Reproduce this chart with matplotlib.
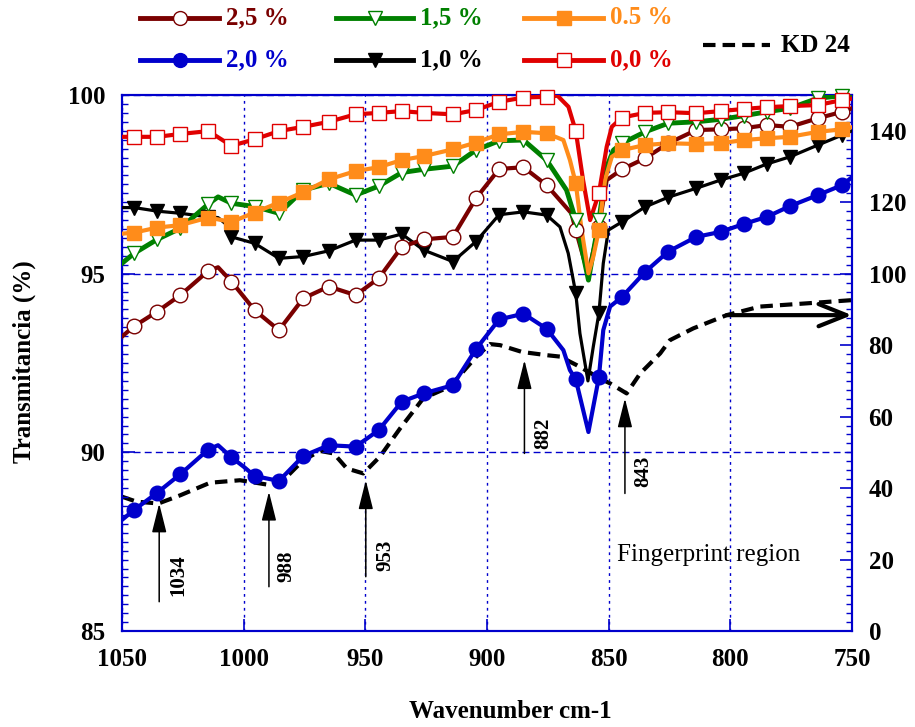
import matplotlib
matplotlib.use("Agg")
import matplotlib.pyplot as plt
import numpy as np
from matplotlib.lines import Line2D
from matplotlib.ticker import MultipleLocator

plt.rcParams['font.family'] = ['Liberation Serif', 'DejaVu Serif']
plt.rcParams['font.weight'] = 'bold'

# ---------------- data ----------------
# common marker positions (cm-1)
mk_wn = [1045, 1035.5, 1026, 1014.5, 1005, 995.5, 985.5, 975.5, 965, 954,
         944.5, 935, 926, 914, 904.5, 895, 885, 875.5, 863.5, 854,
         844.5, 835, 825.5, 814, 804, 794.5, 785, 775.5, 764, 754]

# marker values (transmittance %)
t00_mk = [98.83, 98.83, 98.91, 98.99, 98.58, 98.76, 98.99, 99.11, 99.25, 99.46,
          99.50, 99.55, 99.50, 99.46, 99.58, 99.81, 99.93, 99.95, 98.99, 97.25,
          99.37, 99.50, 99.52, 99.49, 99.55, 99.61, 99.66, 99.69, 99.72, 99.86]
t05_mk = [96.15, 96.29, 96.36, 96.57, 96.45, 96.71, 96.99, 97.28, 97.64, 97.87,
          97.98, 98.18, 98.29, 98.48, 98.67, 98.90, 98.97, 98.93, 97.53, 96.22,
          98.46, 98.60, 98.65, 98.63, 98.65, 98.74, 98.79, 98.83, 98.97, 99.04]
t15_mk = [95.57, 95.96, 96.27, 96.95, 96.97, 96.88, 96.69, 97.34, 97.53, 97.20,
          97.45, 97.83, 97.92, 98.01, 98.46, 98.72, 98.74, 98.18, 96.50, 96.50,
          98.65, 98.97, 99.21, 99.25, 99.32, 99.42, 99.53, 99.63, 99.91, 99.98]
t25_mk = [93.53, 93.94, 94.40, 95.08, 94.78, 93.98, 93.42, 94.31, 94.64, 94.40,
          94.87, 95.75, 95.96, 96.03, 97.11, 97.93, 97.98, 97.48, 96.22, 96.30,
          97.92, 98.23, 98.65, 99.02, 99.04, 99.07, 99.16, 99.11, 99.35, 99.53]
t10_mk = [96.85, 96.75, 96.69, 96.59, 96.03, 95.85, 95.43, 95.48, 95.64, 95.94,
          95.94, 96.11, 95.66, 95.34, 95.90, 96.65, 96.73, 96.64, 94.45, 93.89,
          96.45, 96.87, 97.14, 97.39, 97.62, 97.81, 98.07, 98.27, 98.60, 98.88]
t20_mk = [88.39, 88.87, 89.39, 90.08, 89.86, 89.34, 89.20, 89.90, 90.20, 90.16,
          90.62, 91.42, 91.65, 91.88, 92.89, 93.72, 93.88, 93.46, 92.04, 92.10,
          94.35, 95.05, 95.62, 96.03, 96.17, 96.39, 96.59, 96.89, 97.20, 97.48]

# extra line points between markers (wavenumber, value)
t00_ex_wn = [1050, 871, 866.5, 860.5, 857.6, 850.8, 848.7, 750]
t00_ex = [98.83, 99.98, 99.67, 97.62, 96.50, 98.55, 99.11, 99.90]
t05_ex_wn = [1050, 868.6, 865.9, 861.1, 858.3, 856.3, 851.5, 848.7, 750]
t05_ex = [96.12, 98.74, 98.18, 96.22, 95.01, 95.48, 97.62, 98.27, 99.10]
t15_ex_wn = [1050, 1010.5, 867.3, 858.3, 850.8, 848.0, 750]
t15_ex = [95.29, 97.15, 97.34, 94.82, 97.99, 98.46, 99.98]
t25_ex_wn = [1050, 1010.5, 865.3, 858.5, 850.8, 750]
t25_ex = [93.24, 95.18, 96.69, 95.00, 97.62, 99.63]
t10_ex_wn = [1050, 1010.5, 1007.5, 870, 866.6, 861.8, 858.5, 856.3, 852.2, 850.1, 750]
t10_ex = [96.85, 96.57, 96.40, 96.31, 95.57, 93.33, 92.00, 92.96, 95.29, 96.22, 99.00]
t20_ex_wn = [1050, 1010.5, 1000, 868.6, 865.9, 858.3, 852.2, 849.4, 750]
t20_ex = [88.11, 90.20, 89.60, 92.86, 92.30, 90.57, 93.42, 94.08, 97.70]

# KD 24 reference spectrum (right axis)
kd_wn = [1050, 1044, 1035, 1026, 1013.8, 1001.5, 990.5, 985, 975.5, 968.6, 963,
         957.6, 950.8, 944, 935.7, 926.2, 915.2, 904.5, 898.7, 894.6, 885.6,
         875.5, 870, 863.1, 852.2, 849.4, 842.6, 837, 828.8, 824.8, 815.2,
         801.5, 787.8, 768.6, 750]
kd_val = [37.6, 36.2, 35.7, 38.0, 41.5, 42.2, 41.0, 41.3, 47.8, 50.4, 49.7,
          45.5, 44.1, 48.8, 56.7, 65.1, 68.4, 76.7, 80.3, 80.0, 78.1,
          77.2, 76.8, 74.4, 70.2, 69.3, 66.5, 72.1, 77.7, 81.4, 84.7,
          88.4, 90.8, 91.7, 92.6]

# peak annotations
peak_labels = ['1034', '988', '953', '882', '843']
peak_arrow_x = [1034.7, 989.6, 949.8, 884.6, 843.3]
peak_tail = [85.82, 86.24, 86.52, 89.97, 88.85]
peak_head = [88.57, 88.90, 89.22, 92.58, 91.51]
peak_text_x = [1027.0, 982.3, 941.9, 876.8, 835.7]
peak_text_y = [86.57, 86.80, 87.13, 90.53, 89.46]

series = [
    # label, marker values, extra x, extra y, color, marker, filled, lw
    ('1,0 %', t10_mk, t10_ex_wn, t10_ex, '#000000', 'v', True, 2.3),
    ('2,0 %', t20_mk, t20_ex_wn, t20_ex, '#0000CC', 'o', True, 3.0),
    ('2,5 %', t25_mk, t25_ex_wn, t25_ex, '#7A0000', 'o', False, 3.0),
    ('1,5 %', t15_mk, t15_ex_wn, t15_ex, '#008000', 'v', False, 3.5),
    ('0.5 %', t05_mk, t05_ex_wn, t05_ex, '#FF8C1A', 's', True, 3.0),
    ('0,0 %', t00_mk, t00_ex_wn, t00_ex, '#E00000', 's', False, 3.0),
]

# ---------------- figure ----------------
fig = plt.figure(figsize=(9.15, 7.27), dpi=100)
ax = fig.add_axes([0.1333, 0.1320, 0.7978, 0.7373])
ax2 = ax.twinx()
ax.set_zorder(ax2.get_zorder() + 1)
ax.patch.set_visible(False)

blue = '#0000CC'

# KD 24 on right axis
ax2.plot(kd_wn, kd_val, color='black', lw=3, linestyle=(0, (3, 1.7)))
ax2.set_ylim(0, 150)

handles = {}
for lab, mk, exw, exv, col, m, filled, lw in series:
    xs = np.array(list(mk_wn) + list(exw))
    ys = np.array(list(mk) + list(exv))
    order = np.argsort(xs)
    ax.plot(xs[order], ys[order], color=col, lw=lw, solid_joinstyle='round', zorder=3)
    ax.plot(mk_wn, mk, linestyle='none', marker=m, markersize=10.5,
            markerfacecolor=col if filled else 'white', markeredgecolor=col,
            markeredgewidth=1.0, zorder=4, clip_on=False)

ax.set_xlim(1050, 750)
ax.set_ylim(85, 100)
ax2.set_xlim(1050, 750)

ax.xaxis.set_major_locator(MultipleLocator(50))
ax.yaxis.set_major_locator(MultipleLocator(5))
ax.yaxis.set_minor_locator(MultipleLocator(0.25))
ax2.yaxis.set_major_locator(MultipleLocator(20))
ax2.yaxis.set_minor_locator(MultipleLocator(2.5))
ax2.set_yticks(range(0, 141, 20))

for a in (ax, ax2):
    for sp in a.spines.values():
        sp.set_color(blue)
        sp.set_linewidth(1.5)
ax.tick_params(axis='both', which='major', direction='in', length=9, width=1.2,
               color=blue, labelsize=18, pad=12)
ax.tick_params(axis='y', which='minor', direction='in', length=4, width=1, color=blue)
ax.tick_params(axis='x', which='major', length=9)
ax2.tick_params(axis='y', which='major', direction='in', length=9, width=1.2,
                color=blue, labelsize=18, pad=12)
ax2.tick_params(axis='y', which='minor', direction='in', length=4, width=1, color=blue)
for t in ax.get_xticklabels() + ax.get_yticklabels() + ax2.get_yticklabels():
    t.set_fontweight('bold')

# grid
ax.xaxis.grid(True, color=blue, linestyle=(0, (2, 3)), lw=1.0)
ax.yaxis.grid(True, color=blue, linestyle=(0, (5, 3)), lw=1.0)
ax.set_axisbelow(True)

# peak annotations
for lab, x, t0, t1, tx, ty in zip(peak_labels, peak_arrow_x, peak_tail, peak_head,
                                  peak_text_x, peak_text_y):
    ax.annotate('', xy=(x, t1), xytext=(x, t0),
                arrowprops=dict(arrowstyle='-|>,head_length=1.2,head_width=0.3',
                                lw=1.1, color='black', mutation_scale=15,
                                shrinkA=0, shrinkB=0), zorder=5)
    ax.text(tx, ty, lab, rotation=90, ha='center', va='center',
            fontsize=15, fontweight='bold', zorder=5)

# big arrow to right axis
ax.annotate('', xy=(750, 93.84), xytext=(801.5, 93.84),
            arrowprops=dict(arrowstyle='->,head_length=1.0,head_width=0.4',
                            lw=3, color='black', mutation_scale=20,
                            shrinkA=0, shrinkB=0), zorder=5, annotation_clip=False)

ax.text(846.7, 87.13, 'Fingerprint region', fontsize=18, fontweight='normal',
        ha='left', va='center', zorder=5)

# axis labels
fig.text(24 / 915, 1 - 362 / 727, 'Transmitancia (%)', rotation=90, ha='center',
         va='center', fontsize=18, fontweight='bold')
fig.text(510 / 915, 1 - 712 / 727, 'Wavenumber cm-1', ha='center', va='center',
         fontsize=18, fontweight='bold')

# legend (manual)
W, H = 915.0, 727.0
leg = [
    ('2,5 %', '#7A0000', 'o', False, 140, 219, 18),
    ('1,5 %', '#008000', 'v', False, 336, 413, 18),
    ('0.5 %', '#FF8C1A', 's', True, 524, 603, 18),
    ('2,0 %', '#0000CC', 'o', True, 140, 219, 60),
    ('1,0 %', '#000000', 'v', True, 336, 413, 60),
    ('0,0 %', '#E00000', 's', False, 524, 603, 60),
]
for lab, col, m, filled, x0, x1, y in leg:
    fig.add_artist(Line2D([x0 / W, x1 / W], [1 - y / H, 1 - y / H], color=col, lw=3.5,
                          transform=fig.transFigure))
    fig.add_artist(Line2D([(x0 + x1) / 2 / W], [1 - y / H], marker=m, markersize=10,
                          markerfacecolor=col if filled else 'white',
                          markeredgecolor=col, markeredgewidth=1.0,
                          transform=fig.transFigure))
    fig.text((x1 + 7) / W, 1 - y / H, lab, color=col, fontsize=18, fontweight='bold',
             ha='left', va='center')
fig.add_artist(Line2D([703 / W, 770 / W], [1 - 45 / H, 1 - 45 / H], color='black', lw=3,
                      linestyle=(0, (3, 1.7)), transform=fig.transFigure))
fig.text(781 / W, 1 - 45 / H, 'KD 24', color='black', fontsize=18, fontweight='bold',
         ha='left', va='center')

fig.savefig('out.png', dpi=100)
